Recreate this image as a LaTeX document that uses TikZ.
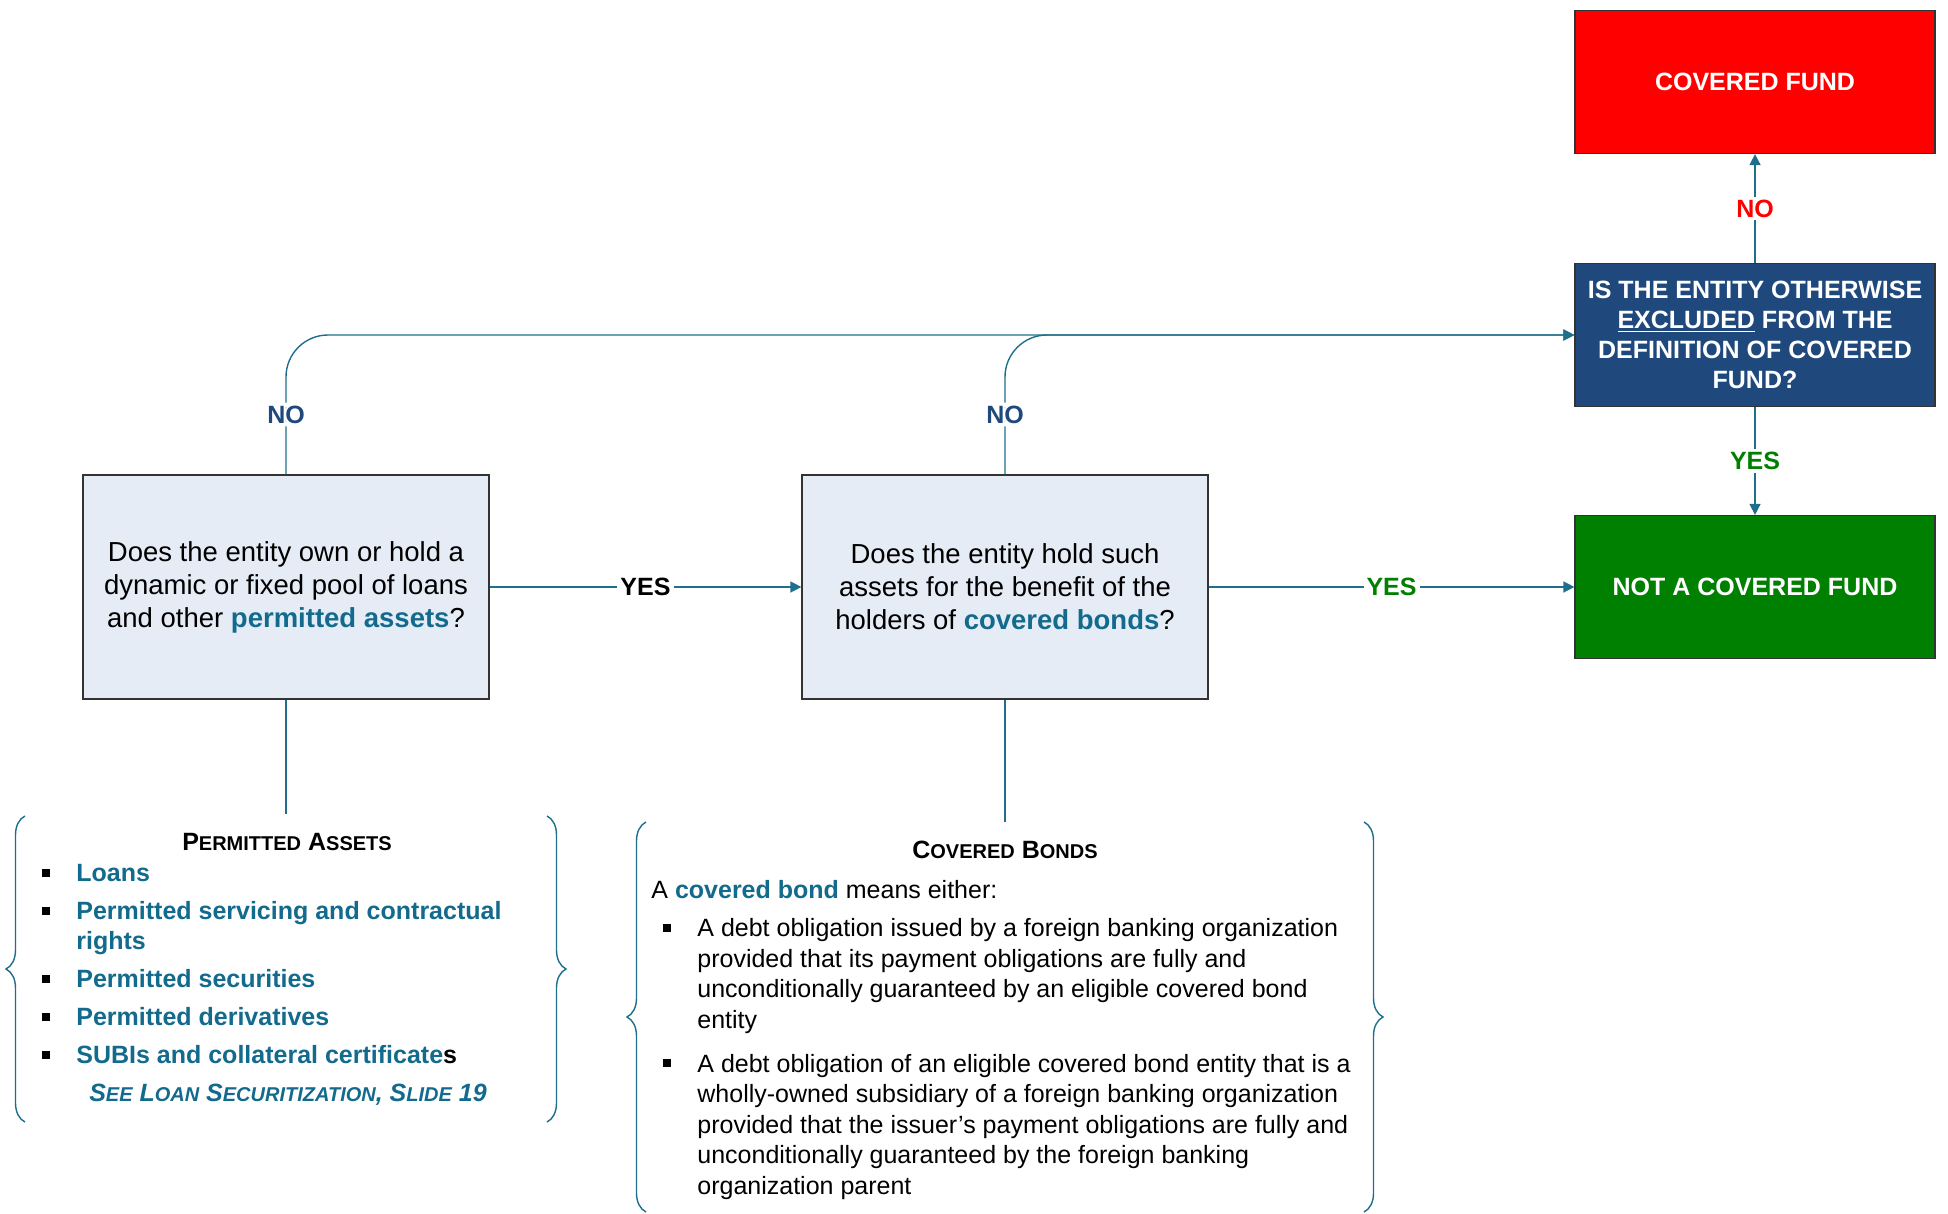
\documentclass[tikz,border=0pt]{standalone}
\usepackage{fontspec}
\setmainfont{Liberation Sans}
\usetikzlibrary{arrows.meta}
\usetikzlibrary{decorations.pathreplacing}
\definecolor{linkteal}{RGB}{18,106,140}
\definecolor{qfill}{RGB}{230,236,246}
\definecolor{navy}{RGB}{31,73,125}
\definecolor{okgreen}{RGB}{0,128,0}
\definecolor{wireblue}{RGB}{31,110,140}
\newcommand{\sqbul}{\rule[2.5pt]{4pt}{4pt}}
\newcommand{\fakesc}[1]{{\fontsize{10}{12}\selectfont #1}}
\tikzstyle{qbox}=[draw=black!80, fill=qfill, line width=0.6pt, minimum width=203pt, minimum height=112pt, align=center, font=\fontsize{13.75}{16.5}\selectfont]
\tikzstyle{rbox}=[draw=black!80, line width=0.6pt, minimum width=180pt, minimum height=71.5pt, align=center, text=white, font=\fontsize{12.5}{15}\selectfont\bfseries]
\tikzstyle{wire}=[draw=wireblue, line width=0.7pt]
\tikzstyle{arr}=[wire, -{Triangle[length=5.5pt,width=5.5pt]}]
\tikzstyle{lbl}=[fill=white, inner sep=1.5pt, font=\fontsize{12.5}{15}\selectfont\bfseries]
\tikzstyle{brc}=[wire, decorate, decoration={brace, amplitude=9.5pt}]
\tikzstyle{body}=[inner sep=0pt, align=left, font=\fontsize{12.5}{15.25}\selectfont]

\begin{document}
\begin{tikzpicture}[x=0.5pt, y=-0.5pt]
    \useasboundingbox (0,0) rectangle (1948,1214);
    % questions and outcomes
    \node[qbox] (qa) at (286,587) {Does the entity own or hold a\\dynamic or fixed pool of loans\\and other \textbf{\textcolor{linkteal}{permitted assets}}?};
    \node[qbox] (qb) at (1005,587) {Does the entity hold such\\assets for the benefit of the\\holders of \textbf{\textcolor{linkteal}{covered bonds}}?};
    \node[rbox, fill=red] (cf) at (1755,82) {COVERED FUND};
    \node[rbox, fill=navy] (excl) at (1755,335) {IS THE ENTITY OTHERWISE\\\underline{EXCLUDED} FROM THE\\DEFINITION OF COVERED\\FUND?};
    \node[rbox, fill=okgreen] (ncf) at (1755,587) {NOT A COVERED FUND};
    \draw[arr] (qa) -- node[lbl]{YES} (qb);
    \draw[arr] (qb) -- node[lbl, text=okgreen]{YES} (ncf);
    \draw[arr] (excl) -- node[lbl, text=red]{NO} (cf);
    \draw[arr] (excl) -- node[lbl, text=okgreen]{YES} (ncf);
    \draw[arr, rounded corners=21pt] (qa.north) |- node[lbl, text=navy, pos=0.215]{NO} (excl.west);
    \draw[arr, rounded corners=21pt] (qb.north) |- node[lbl, text=navy, pos=0.215]{NO} (excl.west);
    % definitions below
    \coordinate (pa) at (286,814);
    \coordinate (cb) at (1005,822);
    \draw[wire] (qa) -- (pa);
    \draw[wire] (qb) -- (cb);
    \draw[brc] (25,1122) -- (25,816);
    \draw[brc] (547,816) -- (547,1122);
    \draw[brc] (646,1212) -- (646,822);
    \draw[brc] (1364,822) -- (1364,1212);
    \node[font=\fontsize{12.5}{15}\selectfont\bfseries] (patitle) at (287,842) {P\fakesc{ERMITTED} A\fakesc{SSETS}};
    \node[body, anchor=north west, text=linkteal, font={\fontsize{12.5}{15}\selectfont\bfseries}] (palist) at (42,864) {%
        \makebox[17pt][l]{\textcolor{black}{\sqbul}}Loans\\[4pt]
        \makebox[17pt][l]{\textcolor{black}{\sqbul}}Permitted servicing and contractual\\
        \hspace*{17pt}rights\\[4pt]
        \makebox[17pt][l]{\textcolor{black}{\sqbul}}Permitted securities\\[4pt]
        \makebox[17pt][l]{\textcolor{black}{\sqbul}}Permitted derivatives\\[4pt]
        \makebox[17pt][l]{\textcolor{black}{\sqbul}}SUBIs and collateral certificate\textcolor{black}{s}};
    \node[font=\fontsize{12.5}{15}\selectfont\bfseries\itshape, text=linkteal] (pasee) at (288,1095) {S\fakesc{EE} L\fakesc{OAN} S\fakesc{ECURITIZATION}, S\fakesc{LIDE} 19};
    \node[font=\fontsize{12.5}{15}\selectfont\bfseries] (cbtitle) at (1005,850) {C\fakesc{OVERED} B\fakesc{ONDS}};
    \node[body, anchor=north west] (cblist) at (651,880) {%
        A \textbf{\textcolor{linkteal}{covered bond}} means either:\\[3.75pt]
        \makebox[23pt][l]{\hspace*{6pt}\sqbul}A debt obligation issued by a foreign banking organization\\
        \hspace*{23pt}provided that its payment obligations are fully and\\
        \hspace*{23pt}unconditionally guaranteed by an eligible covered bond\\
        \hspace*{23pt}entity\\[6.75pt]
        \makebox[23pt][l]{\hspace*{6pt}\sqbul}A debt obligation of an eligible covered bond entity that is a\\
        \hspace*{23pt}wholly-owned subsidiary of a foreign banking organization\\
        \hspace*{23pt}provided that the issuer’s payment obligations are fully and\\
        \hspace*{23pt}unconditionally guaranteed by the foreign banking\\
        \hspace*{23pt}organization parent};
\end{tikzpicture}
\end{document}
